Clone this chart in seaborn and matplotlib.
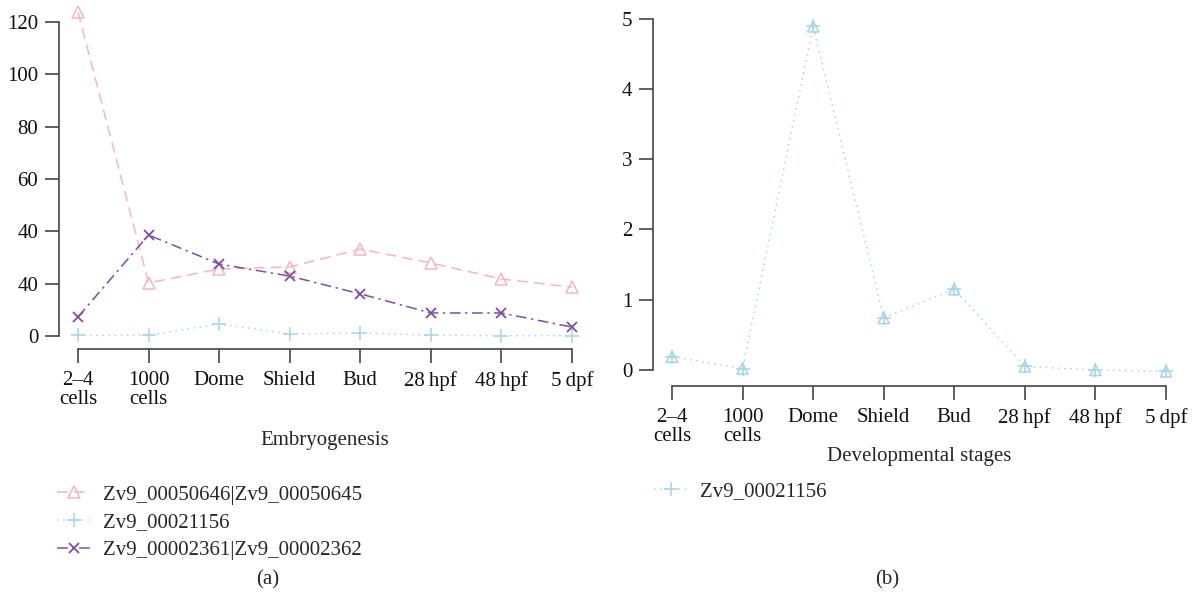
import numpy as np
import pandas as pd
import matplotlib
matplotlib.use("Agg")
import matplotlib.pyplot as plt
import seaborn as sns

# ---- data ----
stages = ["2\u20134\ncells", "1000\ncells", "Dome", "Shield", "Bud", "28\u2009hpf", "48\u2009hpf", "5\u2009dpf"]
s_50646 = [123.8, 20.3, 25.6, 26.4, 33.2, 27.9, 21.8, 18.7]
s_21156_a = [0.2, 0.3, 4.6, 0.8, 1.2, 0.3, 0.1, 0.1]
s_02361 = [7.3, 38.6, 27.5, 22.9, 16.1, 8.8, 8.8, 3.4]
s_21156_b = [0.19, 0.02, 4.89, 0.74, 1.15, 0.05, 0.0, -0.02]
names = ["Zv9_00050646|Zv9_00050645", "Zv9_00021156", "Zv9_00002361|Zv9_00002362"]
left_yticks = [0, 20, 40, 60, 80, 100, 120]
left_ylabels = ["0", "40", "40", "60", "80", "100", "120"]
right_yticks = [0, 1, 2, 3, 4, 5]

PINK = "#F5B5C3"
CYAN = "#A5D5E6"
PURPLE = "#7D4EA3"
FS = 15

sns.set_style("ticks")
plt.rcParams["font.family"] = ["Liberation Serif", "DejaVu Serif"]
plt.rcParams["font.size"] = FS
plt.rcParams["axes.edgecolor"] = "#444444"
plt.rcParams["xtick.color"] = "#444444"
plt.rcParams["ytick.color"] = "#444444"
plt.rcParams["xtick.labelcolor"] = "#111111"
plt.rcParams["ytick.labelcolor"] = "#111111"

W, H = 1194, 595
fig = plt.figure(figsize=(W / 100, H / 100), dpi=100)

def frac_axes(left_px, right_px, top_px, bottom_px):
    return fig.add_axes([left_px / W, 1 - bottom_px / H, (right_px - left_px) / W, (bottom_px - top_px) / H])

x = np.arange(len(stages))

# ---- left panel ----
ax1 = frac_axes(59, 592, 6, 349)
px_per_x = (572 - 78) / 7.0
ax1.set_xlim(-(78 - 59) / px_per_x, 7 + (592 - 572) / px_per_x)
py = (336 - 22) / 120.0
ax1.set_ylim(-(349 - 336) / py, 120 + (22 - 6) / py)

df_a = pd.DataFrame({"x": x, "v": s_50646})
df_b = pd.DataFrame({"x": x, "v": s_21156_a})
df_c = pd.DataFrame({"x": x, "v": s_02361})

sns.lineplot(data=df_a, x="x", y="v", ax=ax1, color=PINK, lw=1.1, linestyle=(0, (7, 4)),
             marker="^", markersize=8.5, mfc="none", mec=PINK, mew=1.1, label=names[0])
sns.lineplot(data=df_b, x="x", y="v", ax=ax1, color=CYAN, lw=1.1, linestyle=(0, (1, 3)),
             marker="+", markersize=10, mec=CYAN, mew=1.1, label=names[1])
sns.lineplot(data=df_c, x="x", y="v", ax=ax1, color=PURPLE, lw=1.1, linestyle=(0, (7, 3, 1.5, 3)),
             marker="x", markersize=7, mec=PURPLE, mew=1.3, label=names[2])

# ---- right panel ----
ax2 = frac_axes(653, 1186, 6, 386)
px_per_x2 = (1166 - 672) / 7.0
ax2.set_xlim(-(672 - 653) / px_per_x2, 7 + (1186 - 1166) / px_per_x2)
py2 = (370 - 18.7) / 5.0
ax2.set_ylim(-(386 - 370) / py2, 5 + (18.7 - 6) / py2)

df_r = pd.DataFrame({"x": x, "v": s_21156_b})
sns.lineplot(data=df_r, x="x", y="v", ax=ax2, color=CYAN, lw=1.1, linestyle=(0, (1, 3)),
             marker="+", markersize=10, mec=CYAN, mew=1.1, label=names[1])
sns.scatterplot(data=df_r, x="x", y="v", ax=ax2, marker="^", s=64, facecolors="none",
                edgecolor=CYAN, linewidth=1.1, legend=False)

for ax in (ax1, ax2):
    sns.despine(ax=ax)
    ax.set_xticks(x)
    ax.set_xticklabels(stages, linespacing=0.95)
    ax.spines["bottom"].set_bounds(0, 7)
    ax.tick_params(axis="both", length=10, width=1.2, labelsize=FS)
    ax.tick_params(axis="x", pad=6)
    ax.tick_params(axis="y", pad=5)
    ax.set_xlabel("")
    ax.set_ylabel("")
    for sp in ("left", "bottom"):
        ax.spines[sp].set_linewidth(1.2)

ax1.set_yticks(left_yticks)
ax1.set_yticklabels(left_ylabels)
ax1.spines["left"].set_bounds(0, 120)
ax2.set_yticks(right_yticks)
ax2.spines["left"].set_bounds(0, 5)

fig.text(325 / W, 1 - 440 / H, "Embryogenesis", ha="center", va="center", fontsize=FS)
fig.text(919 / W, 1 - 457 / H, "Developmental stages", ha="center", va="center", fontsize=FS)
fig.text(268 / W, 1 - 580 / H, "(a)", ha="center", va="center", fontsize=FS)
fig.text(887 / W, 1 - 580 / H, "(b)", ha="center", va="center", fontsize=FS)

ax1.legend(loc="upper left", bbox_to_anchor=(57 / W, 1 - 485 / H), bbox_transform=fig.transFigure,
           frameon=False, fontsize=FS, handlelength=1.6, handletextpad=0.6, labelspacing=0.4,
           borderpad=0, borderaxespad=0)
ax2.legend(loc="upper left", bbox_to_anchor=(654 / W, 1 - 482 / H), bbox_transform=fig.transFigure,
           frameon=False, fontsize=FS, handlelength=1.6, handletextpad=0.6, borderpad=0, borderaxespad=0)

fig.savefig("out.png", dpi=100)
